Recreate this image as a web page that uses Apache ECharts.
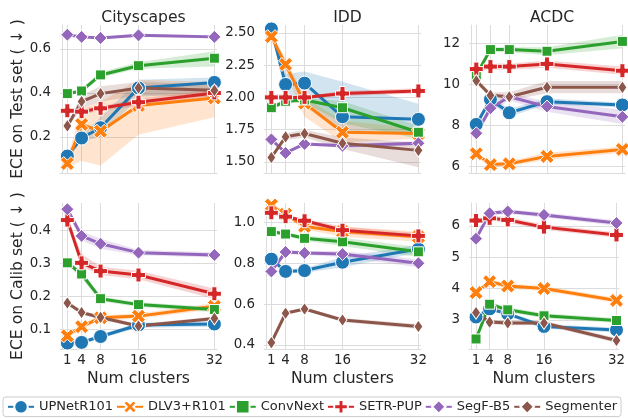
<!DOCTYPE html>
<html><head><meta charset="utf-8">
<script src="https://cdn.jsdelivr.net/npm/echarts@6/dist/echarts.min.js"></script>
<style>html,body{margin:0;padding:0;background:#fff}#chart{width:628px;height:419px}</style>
</head><body><div id="chart"></div>
<script>
const clusters = [1, 4, 8, 16, 32];
const models = ['UPNetR101', 'DLV3+R101', 'ConvNext', 'SETR-PUP', 'SegF-B5', 'Segmenter'];
const datasets = ['Cityscapes', 'IDD', 'ACDC'];
const rowNames = ['ECE on Test set ( \u2193 )', 'ECE on Calib set ( \u2193 )'];
const xLabel = 'Num clusters';

// ---- Test set ECE (rows: models, cols: clusters) ----
const cityscapesTest = [
  [0.113, 0.195, 0.242, 0.423, 0.448],
  [0.079, 0.257, 0.226, 0.343, 0.377],
  [0.397, 0.409, 0.482, 0.524, 0.558],
  [0.319, 0.315, 0.330, 0.358, 0.400],
  [0.665, 0.655, 0.650, 0.662, 0.655],
  [0.250, 0.361, 0.397, 0.423, 0.412]
];
const cityscapesTestLo = [
  [0.100, 0.180, 0.200, 0.380, 0.410],
  [0.060, 0.090, 0.070, 0.210, 0.290],
  [0.390, 0.400, 0.470, 0.510, 0.520],
  [0.310, 0.300, 0.320, 0.340, 0.385],
  [0.660, 0.650, 0.645, 0.655, 0.648],
  [0.240, 0.330, 0.360, 0.390, 0.380]
];
const cityscapesTestHi = [
  [0.130, 0.210, 0.290, 0.460, 0.470],
  [0.100, 0.330, 0.360, 0.460, 0.450],
  [0.405, 0.420, 0.495, 0.540, 0.590],
  [0.330, 0.330, 0.340, 0.375, 0.415],
  [0.670, 0.660, 0.655, 0.668, 0.662],
  [0.260, 0.390, 0.430, 0.450, 0.440]
];
const iddTest = [
  [2.530, 2.100, 2.110, 1.850, 1.830],
  [2.470, 2.255, 1.955, 1.730, 1.720],
  [1.920, 1.970, 1.980, 1.920, 1.730],
  [2.000, 2.000, 2.000, 2.030, 2.050],
  [1.675, 1.570, 1.640, 1.625, 1.645],
  [1.535, 1.695, 1.720, 1.645, 1.590]
];
const iddTestLo = [
  [2.500, 2.020, 1.980, 1.720, 1.720],
  [2.440, 2.200, 1.850, 1.650, 1.680],
  [1.900, 1.950, 1.960, 1.800, 1.680],
  [1.990, 1.990, 1.990, 2.010, 2.030],
  [1.660, 1.560, 1.630, 1.610, 1.630],
  [1.520, 1.670, 1.690, 1.600, 1.460]
];
const iddTestHi = [
  [2.560, 2.180, 2.200, 2.120, 1.950],
  [2.500, 2.300, 2.000, 1.820, 1.760],
  [1.940, 1.990, 2.000, 1.970, 1.780],
  [2.010, 2.010, 2.010, 2.050, 2.070],
  [1.690, 1.580, 1.650, 1.640, 1.660],
  [1.550, 1.720, 1.750, 1.690, 1.650]
];
const acdcTest = [
  [8.03, 9.25, 8.60, 9.14, 8.98],
  [6.60, 6.07, 6.11, 6.47, 6.81],
  [10.44, 11.68, 11.68, 11.60, 12.08],
  [10.73, 10.85, 10.85, 10.98, 10.65],
  [7.60, 8.82, 9.38, 8.90, 8.40],
  [10.16, 9.45, 9.38, 9.84, 9.84]
];
const acdcTestLo = [
  [7.90, 9.10, 8.40, 9.00, 8.85],
  [6.50, 5.95, 6.00, 6.30, 6.65],
  [10.35, 11.55, 11.55, 11.40, 11.75],
  [10.60, 10.70, 10.70, 10.80, 10.45],
  [7.45, 8.65, 9.20, 8.65, 8.05],
  [10.05, 9.30, 9.20, 9.55, 9.55]
];
const acdcTestHi = [
  [8.15, 9.40, 8.80, 9.30, 9.10],
  [6.70, 6.20, 6.25, 6.65, 6.95],
  [10.55, 11.80, 11.80, 11.80, 12.40],
  [10.85, 11.00, 11.00, 11.15, 10.85],
  [7.75, 9.00, 9.55, 9.15, 8.75],
  [10.30, 9.60, 9.60, 10.15, 10.15]
];

// ---- Calibration set ECE ----
const cityscapesCalib = [
  [0.058, 0.060, 0.078, 0.113, 0.116],
  [0.080, 0.108, 0.135, 0.140, 0.170],
  [0.302, 0.268, 0.193, 0.175, 0.160],
  [0.432, 0.302, 0.277, 0.265, 0.208],
  [0.465, 0.384, 0.360, 0.333, 0.326],
  [0.180, 0.151, 0.136, 0.110, 0.133]
];
const cityscapesCalibLo = [
  [0.052, 0.054, 0.072, 0.105, 0.108],
  [0.074, 0.100, 0.127, 0.132, 0.160],
  [0.296, 0.255, 0.185, 0.168, 0.152],
  [0.425, 0.290, 0.265, 0.252, 0.192],
  [0.458, 0.370, 0.345, 0.325, 0.318],
  [0.175, 0.145, 0.130, 0.104, 0.127]
];
const cityscapesCalibHi = [
  [0.064, 0.066, 0.085, 0.120, 0.125],
  [0.086, 0.116, 0.143, 0.148, 0.180],
  [0.308, 0.280, 0.200, 0.182, 0.168],
  [0.440, 0.330, 0.290, 0.278, 0.224],
  [0.472, 0.398, 0.375, 0.341, 0.334],
  [0.185, 0.157, 0.142, 0.116, 0.139]
];
const iddCalib = [
  [0.820, 0.760, 0.764, 0.805, 0.870],
  [1.085, 1.040, 0.980, 0.955, 0.930],
  [0.955, 0.943, 0.922, 0.905, 0.856],
  [1.047, 1.028, 1.008, 0.962, 0.934],
  [0.760, 0.855, 0.850, 0.845, 0.800],
  [0.411, 0.555, 0.576, 0.522, 0.490]
];
const iddCalibLo = [
  [0.810, 0.750, 0.752, 0.780, 0.850],
  [1.075, 1.030, 0.965, 0.930, 0.905],
  [0.945, 0.933, 0.910, 0.885, 0.830],
  [1.040, 1.020, 0.998, 0.945, 0.920],
  [0.750, 0.845, 0.840, 0.830, 0.780],
  [0.405, 0.548, 0.568, 0.512, 0.478]
];
const iddCalibHi = [
  [0.830, 0.770, 0.776, 0.830, 0.890],
  [1.095, 1.050, 0.995, 0.980, 0.955],
  [0.965, 0.953, 0.934, 0.925, 0.880],
  [1.055, 1.036, 1.018, 0.980, 0.948],
  [0.770, 0.865, 0.860, 0.860, 0.820],
  [0.417, 0.562, 0.584, 0.532, 0.502]
];
const acdcCalib = [
  [3.09, 3.35, 3.19, 2.79, 2.68],
  [3.87, 4.22, 4.08, 4.00, 3.62],
  [2.39, 3.50, 3.32, 3.13, 2.98],
  [6.17, 6.24, 6.19, 5.96, 5.71],
  [5.59, 6.40, 6.46, 6.35, 6.09],
  [3.23, 2.93, 2.90, 2.90, 2.34]
];
const acdcCalibLo = [
  [3.03, 3.28, 3.12, 2.72, 2.60],
  [3.80, 4.14, 4.00, 3.92, 3.54],
  [2.33, 3.42, 3.24, 3.05, 2.90],
  [6.10, 6.16, 6.10, 5.88, 5.62],
  [5.52, 6.33, 6.39, 6.27, 6.00],
  [3.17, 2.86, 2.83, 2.83, 2.26]
];
const acdcCalibHi = [
  [3.15, 3.42, 3.26, 2.86, 2.76],
  [3.94, 4.30, 4.16, 4.08, 3.70],
  [2.45, 3.58, 3.40, 3.21, 3.06],
  [6.24, 6.32, 6.28, 6.04, 5.80],
  [5.66, 6.47, 6.53, 6.43, 6.18],
  [3.29, 3.00, 2.97, 2.97, 2.42]
];

// ---- tick labels ----
const cityscapesTestTicks = [0.2, 0.4, 0.6];
const iddTestTicks = [1.5, 1.75, 2.0, 2.25, 2.5];
const acdcTestTicks = [6, 8, 10, 12];
const cityscapesCalibTicks = [0.1, 0.2, 0.3, 0.4];
const iddCalibTicks = [0.4, 0.6, 0.8, 1.0];
const acdcCalibTicks = [3, 4, 5, 6];

// ---- styles ----
const colors = ['#1f77b4', '#ff7f0e', '#2ca02c', '#d62728', '#9467bd', '#8c564b'];
const xPath = 'path://M0,2.4L2.4,0L5,2.6L7.6,0L10,2.4L7.4,5L10,7.6L7.6,10L5,7.4L2.4,10L0,7.6L2.6,5Z';
const pPath = 'path://M3.2,0H6.8V3.2H10V6.8H6.8V10H3.2V6.8H0V3.2H3.2Z';
const symbols = ['circle', xPath, 'rect', pPath, 'diamond', 'diamond'];
const symbolSizes = [14, 14, 10, 14, 13, [9, 13]];
const textColor = '#262626';
const gridColor = '#dcdcdc';
const FONT = 'DejaVu Sans';

const panels = [
  { vals: cityscapesTest, lo: cityscapesTestLo, hi: cityscapesTestHi, ticks: cityscapesTestTicks, min: 0.036, max: 0.709, dec: 1 },
  { vals: iddTest, lo: iddTestLo, hi: iddTestHi, ticks: iddTestTicks, min: 1.415, max: 2.56, dec: 2 },
  { vals: acdcTest, lo: acdcTestLo, hi: acdcTestHi, ticks: acdcTestTicks, min: 5.66, max: 12.88, dec: 0 },
  { vals: cityscapesCalib, lo: cityscapesCalibLo, hi: cityscapesCalibHi, ticks: cityscapesCalibTicks, min: 0.040, max: 0.484, dec: 1 },
  { vals: iddCalib, lo: iddCalibLo, hi: iddCalibHi, ticks: iddCalibTicks, min: 0.38, max: 1.095, dec: 1 },
  { vals: acdcCalib, lo: acdcCalibLo, hi: acdcCalibHi, ticks: acdcCalibTicks, min: 2.07, max: 6.73, dec: 0 }
];

const colLeft = [60, 264, 469];
const colWidth = [157, 157, 156];
const rowTop = [25, 203];
const rowHeight = [148, 146];

const grids = [], xAxes = [], yAxes = [], series = [], titles = [];
panels.forEach((p, g) => {
  const row = Math.floor(g / 3), col = g % 3;
  grids.push({ left: colLeft[col], top: rowTop[row], width: colWidth[col], height: rowHeight[row] });
  const bottomRow = row === 1;
  xAxes.push({
    type: 'value', gridIndex: g, min: -0.55, max: 32.55,
    axisLine: { show: true, lineStyle: { color: gridColor, width: 1 } },
    axisTick: { show: false, customValues: clusters },
    axisLabel: { show: bottomRow, customValues: clusters, color: textColor, fontSize: 13.4, fontFamily: FONT, margin: 5 },
    splitLine: { show: true, lineStyle: { color: gridColor, width: 1 } },
    name: bottomRow ? xLabel : '', nameLocation: 'middle', nameGap: 22,
    nameTextStyle: { color: textColor, fontSize: 15.6, fontFamily: FONT }
  });
  yAxes.push({
    type: 'value', gridIndex: g, min: p.min, max: p.max,
    axisLine: { show: true, lineStyle: { color: gridColor, width: 1 } },
    axisTick: { show: false, customValues: p.ticks },
    axisLabel: { customValues: p.ticks, color: textColor, fontSize: 13.4, fontFamily: FONT, margin: 9,
      formatter: v => Number(v).toFixed(p.dec) },
    splitLine: { show: true, lineStyle: { color: gridColor, width: 1 } },
    name: col === 0 ? rowNames[row] : '', nameLocation: 'middle', nameGap: 33,
    nameTextStyle: { color: textColor, fontSize: 15.6, fontFamily: FONT }
  });
  if (row === 0) {
    titles.push({ text: datasets[col], left: colLeft[col] + colWidth[col] / 2, top: 5, textAlign: 'center',
      textStyle: { color: textColor, fontSize: 15.6, fontWeight: 'normal', fontFamily: FONT } });
  }
  models.forEach((m, k) => {
    const bandData = clusters.map((x, i) => [x, p.lo[k][i], p.hi[k][i]]);
    series.push({
      type: 'custom', xAxisIndex: g, yAxisIndex: g, silent: true, z: 1,
      data: bandData, encode: { x: 0, y: [1, 2] },
      renderItem: (params, api) => {
        if (params.dataIndex !== 0) return null;
        const pts = [];
        for (let i = 0; i < bandData.length; i++) pts.push(api.coord([bandData[i][0], bandData[i][2]]));
        for (let i = bandData.length - 1; i >= 0; i--) pts.push(api.coord([bandData[i][0], bandData[i][1]]));
        const cs = params.coordSys;
        return { type: 'polygon', shape: { points: pts }, style: { fill: colors[k], opacity: 0.2 },
          clipPath: { type: 'rect', shape: { x: cs.x, y: cs.y, width: cs.width, height: cs.height } } };
      }
    });
    series.push({
      type: 'line', name: m, xAxisIndex: g, yAxisIndex: g, z: 3,
      data: clusters.map((x, i) => [x, p.vals[k][i]]),
      symbol: symbols[k], symbolSize: symbolSizes[k], showSymbol: true,
      itemStyle: { color: colors[k], borderColor: '#ffffff', borderWidth: 1 },
      lineStyle: { color: colors[k], width: 3 },
      emphasis: { disabled: true }, animation: false
    });
  });
});

const chart = echarts.init(document.getElementById('chart'), null, { renderer: 'canvas' });
chart.setOption({
  animation: false,
  backgroundColor: '#ffffff',
  textStyle: { fontFamily: FONT },
  title: titles,
  grid: grids,
  xAxis: xAxes,
  yAxis: yAxes,
  legend: {
    data: models, left: 3, right: 0, top: 397, orient: 'horizontal',
    itemWidth: 26, itemHeight: 17, itemGap: 3,
    padding: [2, 4], borderColor: '#cccccc', borderWidth: 1, borderRadius: 3,
    textStyle: { color: textColor, fontSize: 13, fontFamily: FONT }
  },
  series: series
});
</script></body></html>
